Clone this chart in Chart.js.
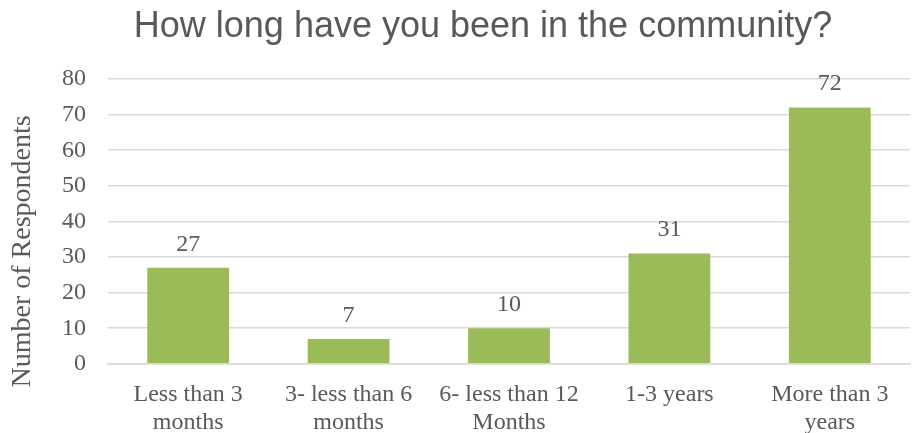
<!DOCTYPE html>
<html>
<head>
<meta charset="utf-8">
<script src="https://cdn.jsdelivr.net/npm/chart.js@4"></script>
<style>
  html, body { margin: 0; padding: 0; background: #fff; }
  #wrap { width: 912px; height: 433px; }
</style>
</head>
<body>
<div id="wrap"><canvas id="myChart" width="912" height="433"></canvas></div>
<script>
var chartTitle = 'How long have you been in the community?';
var yTitle = 'Number of Respondents';
var categories = [
  ['Less than 3', 'months'],
  ['3- less than 6', 'months'],
  ['6- less than 12', 'Months'],
  ['1-3 years'],
  ['More than 3', 'years']
];
var respondents = [27, 7, 10, 31, 72];
var yTicks = [0, 10, 20, 30, 40, 50, 60, 70, 80];

var textGray = '#595959';
var serif = "'Liberation Serif', 'DejaVu Serif', serif";

// value labels above each bar, plus the titles placed the way Excel put them
var extras = {
  id: 'extras',
  afterDatasetsDraw: function (chart) {
    var ctx = chart.ctx;
    var meta = chart.getDatasetMeta(0);
    var area = chart.chartArea;
    ctx.save();
    ctx.fillStyle = textGray;
    ctx.font = '24px ' + serif;
    ctx.textAlign = 'center';
    ctx.textBaseline = 'alphabetic';
    meta.data.forEach(function (bar, i) {
      ctx.fillText(String(respondents[i]), bar.x, bar.y - 17);
    });

    ctx.font = "36px 'Liberation Sans', Arial, sans-serif";
    ctx.fillText(chartTitle, (area.left + area.right) / 2 - 26, 37);

    // y axis title sits a bit below the plot centre
    ctx.translate(23, (area.top + area.bottom) / 2 + 30);
    ctx.rotate(-Math.PI / 2);
    ctx.font = '28px ' + serif;
    ctx.textBaseline = 'middle';
    ctx.fillText(yTitle, 0, 0);
    ctx.restore();
  }
};

new Chart(document.getElementById('myChart'), {
  type: 'bar',
  data: {
    labels: categories,
    datasets: [{
      data: respondents,
      backgroundColor: '#9BBB59',
      borderWidth: 0,
      categoryPercentage: 1,
      barPercentage: 0.51
    }]
  },
  options: {
    responsive: false,
    animation: false,
    layout: { padding: { left: 40, right: 2, top: 79, bottom: -21 } },
    plugins: {
      legend: { display: false },
      tooltip: { enabled: false }
    },
    scales: {
      x: {
        grid: { display: false, drawTicks: false },
        border: { color: '#D9D9D9', width: 1.5 },
        ticks: {
          color: textGray,
          font: { family: serif, size: 24, lineHeight: 1.17 },
          maxRotation: 0,
          autoSkip: false,
          padding: 17
        }
      },
      y: {
        min: yTicks[0],
        max: yTicks[yTicks.length - 1],
        afterBuildTicks: function (axis) {
          axis.ticks = yTicks.map(function (v) { return { value: v }; });
        },
        grid: { color: '#D9D9D9', lineWidth: 1.5, drawTicks: false },
        border: { display: false },
        ticks: {
          color: textGray,
          font: { family: serif, size: 24 },
          padding: 22
        }
      }
    }
  },
  plugins: [extras]
});
</script>
</body>
</html>
